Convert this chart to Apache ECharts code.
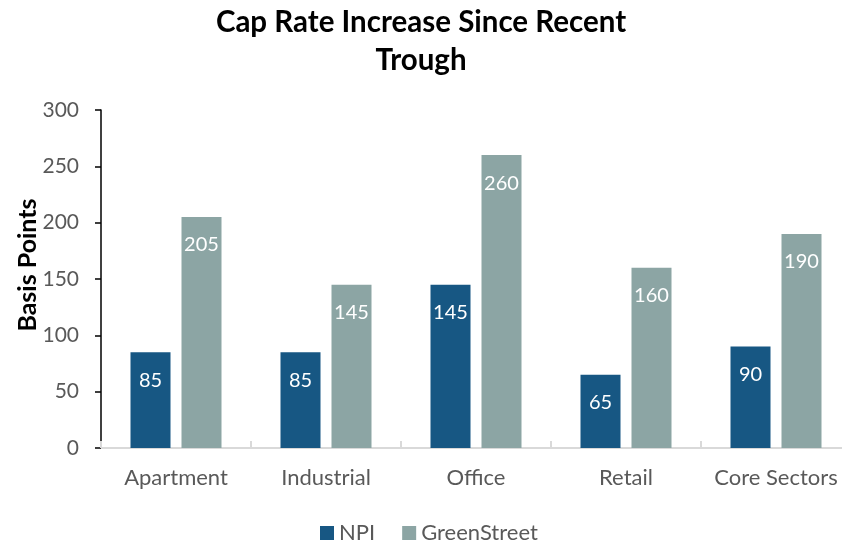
<!DOCTYPE html>
<html>
<head>
<meta charset="utf-8">
<script src="https://cdn.jsdelivr.net/npm/echarts@6/dist/echarts.min.js"></script>
<style>
  html, body { margin: 0; padding: 0; background: #ffffff; }
  #chart { width: 842px; height: 542px; }
</style>
</head>
<body>
<div id="chart"></div>
<script>
// Cap rate increase since recent trough, in basis points
const categories = ['Apartment', 'Industrial', 'Office', 'Retail', 'Core Sectors'];
const npiValues = [85, 85, 145, 65, 90];
const greenStreetValues = [205, 145, 260, 160, 190];
const yTicks = [0, 50, 100, 150, 200, 250, 300];

const FONT = 'Lato, "Open Sans", sans-serif';
const TEXT_GREY = '#595959';

const chart = echarts.init(document.getElementById('chart'), null, { renderer: 'canvas' });

const valueLabel = {
  show: true,
  position: 'insideTop',
  distance: 18,
  color: '#ffffff',
  fontFamily: FONT,
  fontSize: 20
};

chart.setOption({
  animation: false,
  backgroundColor: '#ffffff',
  textStyle: { fontFamily: FONT },
  title: {
    text: 'Cap Rate Increase Since Recent\nTrough',
    left: 'center',
    top: 0,
    padding: [3, 5, 5, 15],
    textStyle: {
      fontFamily: FONT,
      fontSize: 29.5,
      fontWeight: 'bold',
      color: '#000000',
      lineHeight: 38
    }
  },
  legend: {
    top: 522,
    left: 320,
    padding: 0,
    icon: 'rect',
    itemWidth: 14,
    itemHeight: 14,
    itemGap: 27,
    textStyle: { fontFamily: FONT, fontSize: 22, color: TEXT_GREY },
    data: ['NPI', 'GreenStreet']
  },
  grid: {
    left: 101,
    top: 110,
    right: -9,
    bottom: 94,
    containLabel: false,
    outerBoundsMode: 'none'
  },
  xAxis: {
    type: 'category',
    data: categories,
    axisLine: { show: true, lineStyle: { color: '#d9d9d9', width: 2 } },
    axisTick: { show: true, inside: true, length: 7, lineStyle: { color: '#d9d9d9', width: 2 } },
    axisLabel: { interval: 0, fontFamily: FONT, fontSize: 22, color: TEXT_GREY, margin: 19 }
  },
  yAxis: {
    type: 'value',
    min: yTicks[0],
    max: yTicks[yTicks.length - 1],
    interval: yTicks[1] - yTicks[0],
    name: 'Basis Points',
    nameLocation: 'middle',
    nameGap: 61,
    nameMoveOverlap: false,
    nameTextStyle: {
      fontFamily: FONT,
      fontSize: 25,
      fontWeight: 'bold',
      color: '#000000',
      padding: [0, 0, 0, 28]
    },
    axisLine: { show: true, lineStyle: { color: '#000000', width: 1.5 } },
    axisTick: { show: true, length: 6, lineStyle: { color: '#000000', width: 1.5 } },
    axisLabel: { fontFamily: FONT, fontSize: 21, color: TEXT_GREY, margin: 22 },
    splitLine: { show: false }
  },
  series: [
    {
      name: 'NPI',
      type: 'bar',
      data: npiValues,
      barWidth: 40,
      barGap: '27.5%',
      itemStyle: { color: '#175783' },
      label: valueLabel
    },
    {
      name: 'GreenStreet',
      type: 'bar',
      data: greenStreetValues,
      barWidth: 40,
      barGap: '27.5%',
      itemStyle: { color: '#8CA5A4' },
      label: valueLabel
    }
  ]
});
</script>
</body>
</html>
